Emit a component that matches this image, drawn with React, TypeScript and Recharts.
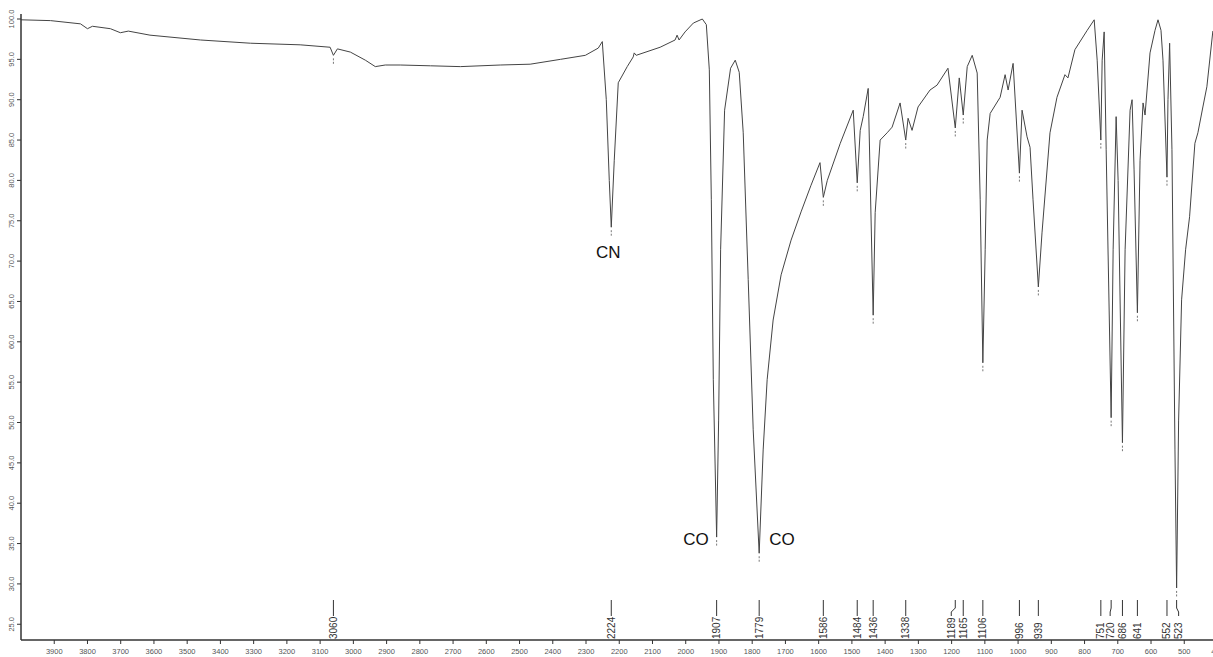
import React from "react";
import { ComposedChart, Line, Scatter, XAxis, YAxis } from "recharts";

const wavenumbers = [
  4000, 3911, 3821, 3800, 3785, 3731, 3701, 3677, 3612, 3460, 3310, 3160, 3070, 3060, 3048, 3009,
  2964, 2934, 2904, 2859, 2768, 2678, 2558, 2468, 2377, 2302, 2263, 2251, 2239, 2230, 2224, 2215,
  2203, 2176, 2158, 2155, 2149, 2077, 2032, 2026, 2020, 2002, 1977, 1950, 1938, 1929, 1923, 1917,
  1907, 1901, 1895, 1883, 1865, 1851, 1839, 1827, 1812, 1797, 1779, 1767, 1755, 1737, 1713, 1683,
  1653, 1623, 1596, 1586, 1574, 1535, 1496, 1484, 1475, 1466, 1451, 1436, 1430, 1415, 1394, 1379,
  1355, 1338, 1331, 1319, 1301, 1265, 1244, 1211, 1189, 1177, 1165, 1153, 1138, 1123, 1114, 1106,
  1099, 1093, 1084, 1054, 1039, 1030, 1015, 996, 988, 973, 964, 955, 939, 928, 904, 883, 859, 850,
  829, 792, 771, 762, 751, 747, 741, 735, 720, 714, 705, 699, 686, 678, 663, 657, 651, 641, 633,
  624, 618, 603, 588, 579, 570, 564, 552, 549, 544, 537, 528, 523, 517, 508, 496, 484, 468, 459,
  444, 432, 414, 400,
];

const transmittance = [
  99.9, 99.8, 99.4, 98.8, 99.1, 98.8, 98.3, 98.5, 98.0, 97.4, 97.0, 96.8, 96.5, 95.5, 96.3, 95.9,
  94.9, 94.1, 94.3, 94.3, 94.2, 94.1, 94.3, 94.4, 95.0, 95.5, 96.4, 97.2, 90.0, 80.0, 74.2, 82.5,
  92.1, 94.1, 95.3, 95.8, 95.5, 96.5, 97.4, 98.0, 97.4, 98.4, 99.5, 100.0, 99.3, 93.7, 77.6, 55.3,
  35.8, 50.3, 71.4, 88.7, 93.9, 94.9, 93.4, 85.9, 67.7, 49.1, 33.8, 46.6, 55.3, 62.7, 68.3, 72.6,
  76.1, 79.4, 82.2, 77.9, 80.0, 84.6, 88.7, 79.7, 86.2, 87.9, 91.4, 63.3, 76.0, 85.0, 85.9, 86.6,
  89.6, 85.0, 87.7, 86.2, 89.1, 91.2, 91.8, 93.9, 86.5, 92.7, 88.1, 94.1, 95.5, 93.3, 77.6, 57.4,
  71.4, 85.0, 88.3, 90.3, 93.1, 91.2, 94.5, 80.9, 88.7, 85.4, 84.1, 77.6, 66.8, 73.5, 85.9, 90.3, 93.1, 92.7,
  96.2, 98.6, 99.9, 94.9, 85.0, 94.9, 98.4, 83.8, 50.6, 71.4, 87.9, 80.0, 47.5, 71.4, 88.7, 90.0, 81.3, 63.6, 82.5,
  89.6, 88.1, 95.8, 98.6, 99.9, 98.6, 94.9, 80.4, 90.0, 97.0, 83.8, 46.6, 29.5, 50.3, 65.2, 71.4, 75.5, 84.6, 85.9,
  89.1, 91.6, 98.5, 99.0,
];

const peakLabels = [3060, 2224, 1907, 1779, 1586, 1484, 1436, 1338, 1189, 1165, 1106, 996, 939, 751, 720, 686, 641, 552, 523];
const peakMinima = [95.5, 74.2, 35.8, 33.8, 77.9, 79.7, 63.3, 85.0, 86.5, 88.1, 57.4, 80.9, 66.8, 85.0, 50.6, 47.5, 63.6, 80.4, 29.5];

const bandNames = ["CN", "CO", "CO"];
const bandWavenumbers = [2224, 1907, 1779];
const bandMinima = [74.2, 35.8, 33.8];

const xTicks = [
  3900, 3800, 3700, 3600, 3500, 3400, 3300, 3200, 3100, 3000, 2900, 2800, 2700, 2600, 2500, 2400,
  2300, 2200, 2100, 2000, 1900, 1800, 1700, 1600, 1500, 1400, 1300, 1200, 1100, 1000, 900, 800,
  700, 600, 500, 400,
];
const yTicks = [25, 30, 35, 40, 45, 50, 55, 60, 65, 70, 75, 80, 85, 90, 95, 100];

const spectrum = wavenumbers.map((wn, i) => ({ wn, t: transmittance[i] }));
const peaks = peakLabels.map((wn, i) => ({ wn, t: peakMinima[i], label: String(wn) }));
const bands = bandNames.map((name, i) => ({ wn: bandWavenumbers[i], t: bandMinima[i], name }));

const FONT = "'Liberation Sans', Arial, sans-serif";
const LABEL_TOP = 600;
const LABEL_LINE_END = 616;
const LABEL_TEXT_BOTTOM = 639;
const labelNudge: Record<string, number> = { "1189": -4, "523": 2, "720": -1 };
const bandOffsets = [
  { dx: -3, dy: 25, anchor: "middle" },
  { dx: -8, dy: 2, anchor: "end" },
  { dx: 10, dy: -14, anchor: "start" },
];

const YTick = (props: any) => {
  const { y, payload } = props;
  return (
    <g>
      <line x1={17} x2={21} y1={y} y2={y} stroke="#333" strokeWidth={1} />
      <text
        x={12}
        y={y}
        transform={`rotate(-90 12 ${y})`}
        textAnchor="middle"
        dominantBaseline="central"
        fontSize={7.5}
        fill="#555"
        fontFamily={FONT}
      >
        {Number(payload.value).toFixed(1)}
      </text>
    </g>
  );
};

const XTick = (props: any) => {
  const { x, payload } = props;
  return (
    <text x={x} y={651} textAnchor="middle" dominantBaseline="central" fontSize={7.5} fill="#555" fontFamily={FONT}>
      {payload.value}
    </text>
  );
};

const PeakShape = (props: any) => {
  const { cx, cy, payload } = props;
  if (cx == null || cy == null) return null;
  const lx = cx + (labelNudge[payload.label] || 0);
  return (
    <g>
      <line x1={cx} x2={cx} y1={cy + 3} y2={cy + 9} stroke="#777" strokeWidth={1} strokeDasharray="2 1.5" />
      <polyline
        points={`${cx},${LABEL_TOP} ${cx},${LABEL_TOP + 8} ${lx},${LABEL_TOP + 12} ${lx},${LABEL_LINE_END}`}
        fill="none"
        stroke="#333"
        strokeWidth={1}
      />
      <text
        x={lx}
        y={LABEL_TEXT_BOTTOM}
        transform={`rotate(-90 ${lx} ${LABEL_TEXT_BOTTOM})`}
        textAnchor="start"
        dominantBaseline="central"
        fontSize={10}
        fill="#333"
        fontFamily={FONT}
      >
        {payload.label}
      </text>
    </g>
  );
};

const BandShape = (props: any) => {
  const { cx, cy, index, payload } = props;
  if (cx == null || cy == null) return null;
  const o = bandOffsets[index] || bandOffsets[0];
  return (
    <text
      x={cx + o.dx}
      y={cy + o.dy}
      textAnchor={o.anchor as any}
      dominantBaseline="central"
      fontSize={17}
      fill="#111"
      fontFamily={FONT}
    >
      {payload.name}
    </text>
  );
};

export default function App() {
  return (
    <div
      style={{
        position: "absolute",
        left: 0,
        top: 0,
        width: 1213,
        height: 657,
        overflow: "hidden",
        background: "#fff",
      }}
    >
      <ComposedChart
        width={1240}
        height={657}
        data={spectrum}
        margin={{ top: 14, right: 22.5, left: 0, bottom: 0 }}
      >
        <XAxis
          dataKey="wn"
          type="number"
          domain={[400, 4000]}
          reversed
          allowDataOverflow
          ticks={xTicks}
          interval={0}
          height={17}
          tick={<XTick />}
          tickSize={4}
          tickLine={{ stroke: "#333", strokeWidth: 1 }}
          axisLine={{ stroke: "#333", strokeWidth: 1.5 }}
        />
        <YAxis
          type="number"
          domain={[23.05, 100.62]}
          allowDataOverflow
          ticks={yTicks}
          interval={0}
          width={21}
          tick={<YTick />}
          tickLine={false}
          axisLine={{ stroke: "#333", strokeWidth: 1.5 }}
        />
        <Line
          type="linear"
          dataKey="t"
          stroke="#444"
          strokeWidth={1}
          dot={false}
          activeDot={false}
          isAnimationActive={false}
        />
        <Scatter data={peaks} dataKey="t" shape={<PeakShape />} isAnimationActive={false} />
        <Scatter data={bands} dataKey="t" shape={<BandShape />} isAnimationActive={false} />
      </ComposedChart>
    </div>
  );
}
